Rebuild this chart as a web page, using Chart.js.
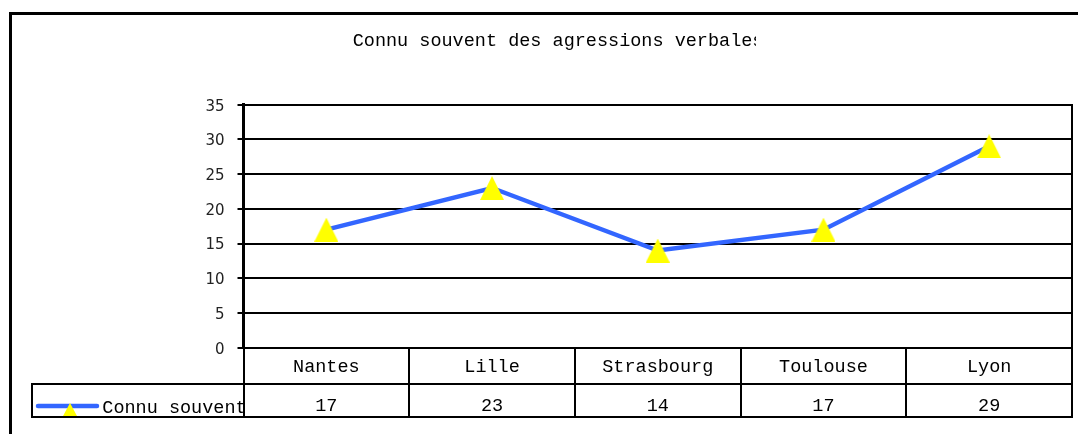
<!DOCTYPE html>
<html><head><meta charset="utf-8">
<script src="https://cdn.jsdelivr.net/npm/chart.js@4"></script>
<style>html,body{margin:0;padding:0;background:#fff;overflow:hidden}#wrap{width:1078px;height:434px}</style>
</head><body><div id="wrap"><canvas id="c" width="1078" height="434"></canvas></div>
<script>
const chartTitle = 'Connu souvent des agressions verbales';
const categories = ['Nantes', 'Lille', 'Strasbourg', 'Toulouse', 'Lyon'];
const seriesName = 'Connu souvent';
const values = [17, 23, 14, 17, 29];
const yTicks = [0, 5, 10, 15, 20, 25, 30, 35];

const MONO = '"Liberation Mono", "Courier New", monospace';
const LINE_BLUE = '#3366FF';
const MARK_YELLOW = '#FFFF00';

function triangleImg(w, h, color) {
  const c = document.createElement('canvas');
  c.width = w; c.height = h;
  const g = c.getContext('2d');
  g.fillStyle = color;
  g.beginPath();
  g.moveTo(w / 2, 0); g.lineTo(w, h); g.lineTo(0, h);
  g.closePath(); g.fill();
  return c;
}
const marker = triangleImg(24, 24, MARK_YELLOW);

const decor = {
  id: 'decor',
  afterDraw(chart) {
    const ctx = chart.ctx;
    const a = chart.chartArea;
    const xs = chart.scales.x;
    ctx.save();
    // outer frame
    ctx.strokeStyle = '#000'; ctx.lineWidth = 3;
    ctx.strokeRect(10.5, 13.5, 1200, 600);
    // title (clipped)
    ctx.save();
    ctx.beginPath(); ctx.rect(0, 0, 756, 434); ctx.clip();
    ctx.fillStyle = '#000'; ctx.font = '18.5px ' + MONO;
    ctx.textAlign = 'left'; ctx.textBaseline = 'middle';
    ctx.fillText(chartTitle, 352.7, 41);
    ctx.restore();

    // data table
    const n = categories.length;
    const step = n > 1 ? xs.getPixelForValue(1) - xs.getPixelForValue(0) : (a.right - a.left);
    const rowTop = Math.round(a.bottom), rowMid = 384, rowBot = 417, legLeft = 32;
    const right = Math.round(a.right);

    // legend text first (overlaps line)
    ctx.font = '18.5px ' + MONO; ctx.fillStyle = '#000';
    ctx.textAlign = 'left'; ctx.textBaseline = 'middle';
    ctx.fillText(seriesName, 102.3, 408);
    // legend line + marker
    ctx.strokeStyle = LINE_BLUE; ctx.lineWidth = 4.5; ctx.lineCap = 'round';
    ctx.beginPath(); ctx.moveTo(38, 406); ctx.lineTo(97, 406); ctx.stroke();
    ctx.drawImage(triangleImg(14, 13, MARK_YELLOW), 63, 403);

    // table texts
    ctx.textAlign = 'center';
    for (let i = 0; i < n; i++) {
      const cx = xs.getPixelForValue(i);
      ctx.fillText(categories[i], cx, 367.5);
      ctx.fillText(String(values[i]), cx, 406);
    }

    // table lines (pixel aligned, 2px)
    ctx.strokeStyle = '#000'; ctx.lineWidth = 2; ctx.lineCap = 'butt';
    ctx.beginPath();
    ctx.moveTo(right, Math.round(a.top) - 1); ctx.lineTo(right, rowBot + 1);
    for (let i = 0; i < n; i++) {
      const bx = Math.round(xs.getPixelForValue(i) - step / 2);
      ctx.moveTo(bx, rowTop); ctx.lineTo(bx, rowBot + 1);
    }
    ctx.moveTo(legLeft - 1, rowMid); ctx.lineTo(right + 1, rowMid);
    ctx.moveTo(legLeft - 1, rowBot); ctx.lineTo(right + 1, rowBot);
    ctx.moveTo(legLeft, rowMid); ctx.lineTo(legLeft, rowBot);
    ctx.stroke();
    ctx.restore();
  }
};

new Chart(document.getElementById('c'), {
  type: 'line',
  data: {
    labels: categories,
    datasets: [{
      label: seriesName,
      data: values,
      borderColor: LINE_BLUE,
      borderWidth: 4.5,
      pointStyle: marker,
      pointRadius: 12,
      pointBackgroundColor: MARK_YELLOW,
      pointBorderWidth: 0,
      tension: 0,
      fill: false
    }]
  },
  options: {
    responsive: false,
    animation: false,
    events: [],
    layout: { autoPadding: false, padding: { left: 0, top: 104.7, right: 6, bottom: 86.3 } },
    plugins: { legend: { display: false }, title: { display: false }, tooltip: { enabled: false } },
    scales: {
      x: { type: 'category', display: false, offset: true },
      y: {
        min: yTicks[0], max: yTicks[yTicks.length - 1],
        afterBuildTicks: s => { s.ticks = yTicks.map(v => ({ value: v })); },
        afterFit: s => { s.width = 243.5; },
        grid: { color: '#000', lineWidth: 2, tickLength: 6, tickColor: '#000', tickWidth: 2, drawTicks: true },
        border: { color: '#000', width: 3 },
        ticks: { color: '#222', font: { family: '"DejaVu Sans", sans-serif', size: 15 }, padding: 13, labelOffset: 2 }
      }
    }
  },
  plugins: [decor]
});
</script>
</body></html>
